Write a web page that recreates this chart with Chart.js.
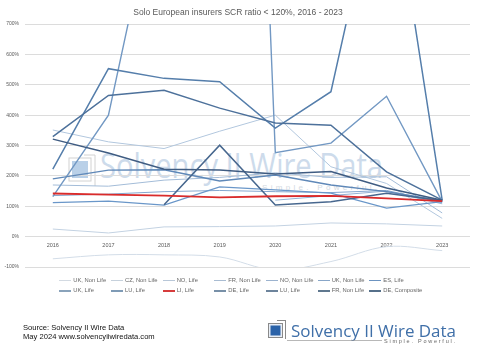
<!DOCTYPE html>
<html><head><meta charset="utf-8">
<script src="https://cdn.jsdelivr.net/npm/chart.js@4/dist/chart.umd.min.js"></script>
<style>
html,body{margin:0;padding:0;background:#fff;}
#wrap{position:relative;width:480px;height:360px;overflow:hidden;font-family:"Liberation Sans",Arial,sans-serif;}
#wm{position:absolute;left:0;top:0;z-index:0;}
#cv{position:absolute;left:0;top:0;z-index:1;}
#title{position:absolute;left:0;top:7px;width:476px;text-align:center;font-size:8.5px;color:#595959;z-index:2;}
.lg{position:absolute;font-size:5.8px;color:#666;white-space:nowrap;z-index:2;}
.lg i{position:absolute;left:0;width:12px;}
.lg span{position:absolute;left:14px;top:-4px;}
#src{position:absolute;left:23px;top:324px;font-size:7.6px;line-height:8.6px;color:#111;z-index:2;}
#logo{position:absolute;left:0;top:0;z-index:2;}
</style>
</head><body>
<div id="wrap">
<svg id="wm" width="480" height="360" xmlns="http://www.w3.org/2000/svg">
  <rect x="72" y="161" width="16" height="17" fill="#b9d0e8"/>
  <rect x="69" y="158" width="22" height="23" fill="none" stroke="#d2d2d2" stroke-width="1"/>
  <line x1="95" y1="155" x2="95" y2="186" stroke="#d2d2d2" stroke-width="1"/>
  <line x1="84" y1="155" x2="95" y2="155" stroke="#d2d2d2" stroke-width="1"/>
  <text x="100" y="178" font-family="Open Sans, Liberation Sans, sans-serif" font-size="34" fill="#cddbeb" textLength="283" lengthAdjust="spacingAndGlyphs">Solvency II Wire Data</text>
  <text x="262" y="190" font-family="Liberation Sans, sans-serif" font-size="8" fill="#d3dae2" textLength="115" lengthAdjust="spacing">Simple. Powerful.</text>
</svg>
<canvas id="cv" width="480" height="360"></canvas>
<div id="title">Solo European insurers SCR ratio &lt; 120%, 2016 - 2023</div>
<div id="legend"></div>
<div id="src">Source: Solvency II Wire Data<br>May 2024 www.solvencyiiwiredata.com</div>
<svg id="logo" width="480" height="360" xmlns="http://www.w3.org/2000/svg">
  <line x1="277" y1="320.5" x2="285" y2="320.5" stroke="#8a8a8a" stroke-width="1"/>
  <line x1="285.5" y1="320" x2="285.5" y2="339" stroke="#8a8a8a" stroke-width="1"/>
  <rect x="268.5" y="323.5" width="14" height="14" fill="#e8eef6" stroke="#8a8a8a" stroke-width="1"/>
  <rect x="270.5" y="325.5" width="10" height="10" fill="#2a62a8"/>
  <text x="291" y="337" font-family="Open Sans, Liberation Sans, sans-serif" font-size="17" fill="#3f6fa8" textLength="165" lengthAdjust="spacingAndGlyphs">Solvency II Wire Data</text>
  <line x1="287" y1="340.5" x2="382" y2="340.5" stroke="#9a9a9a" stroke-width="0.7"/>
  <text x="384" y="343" font-family="Liberation Sans, sans-serif" font-size="5.5" fill="#666" textLength="71" lengthAdjust="spacing">Simple. Powerful.</text>
</svg>
</div>
<script>
// ---- data ----
const years = ['2016','2017','2018','2019','2020','2021','2022','2023'];
const seriesNames = ['UK, Non Life','CZ, Non Life','NO, Life','FR, Non Life','NO, Non Life','UK, Non Life','ES, Life',
                     'UK, Life','LU, Life','LI, Life','DE, Life','LU, Life','FR, Non Life','DE, Composite'];
const ukNonLifeA  = [-73, -60, -60, -67, -110, -82, -33, -46];
const czNonLife   = [25, 12, 32, 33, 35, 45, 42, 35];
const noLife      = [351, 312, 290, 347, 400, 230, 175, 60];
const frNonLifeA  = [170, 166, 186, 195, 210, 195, 197, 78];
const noNonLife   = [null, null, null, null, 120, 135, 150, 108];
const ukNonLifeB  = [135, 140, 148, 152, 148, 145, 152, 112];
const esLife      = [112, 117, 104, 164, 154, 143, 94, 115];
const ukLife      = [132, 400, 1250, 4800, 276, 308, 462, 115];
const luLifeA     = [190, 219, 220, 183, 203, 170, 148, 118];
const liLife      = [142, 138, 135, 129, 133, 134, 126, 117];
const deLife      = [222, 553, 521, 510, 357, 477, 1300, 120];
const luLifeB     = [329, 465, 482, 423, 374, 367, 213, 120];
const frNonLifeB  = [null, null, 105, 301, 104, 115, 143, 118];
const deComposite = [321, 275, 222, 219, 206, 214, 160, 120];
const yMin = -100, yMax = 700, yStep = 100;

const seriesValues = [ukNonLifeA, czNonLife, noLife, frNonLifeA, noNonLife, ukNonLifeB, esLife,
                      ukLife, luLifeA, liLife, deLife, luLifeB, frNonLifeB, deComposite];
// ---- styles ----
const colors = ['#d3dde8','#c3d2e2','#b2c7de','#a3bcd8','#95b3d4','#84a8d0','#6a97c9',
                '#7298c3','#5f88b8','#d92b2b','#557eab','#4d719b','#47678e','#3f5c82'];
const widths = [1,1,1,1,1,1,1.2, 1.4,1.4,1.8,1.5,1.5,1.5,1.5];
const legendColors = ['#d3dae2','#c6d1dc','#b8c7d8','#a9bcd2','#9cb3cf','#88a6c8','#6c93c0',
                      '#8aa3bb','#7f9bb6','#d63c3c','#7890a8','#6d849c','#60788f','#56708a'];

const datasets = seriesNames.map((n,i)=>({
  label:n, data:seriesValues[i], borderColor:colors[i], backgroundColor:colors[i],
  borderWidth:widths[i], pointRadius:0, pointHoverRadius:0, fill:false,
  tension: i===0 ? 0.35 : 0, spanGaps:false, order: i===9 ? -1 : 14-i
}));

new Chart(document.getElementById('cv'), {
  type:'line',
  data:{labels:years, datasets},
  options:{
    responsive:false, animation:false,
    layout:{padding:{left:0,right:10,top:24,bottom:93}},
    plugins:{legend:{display:false}, title:{display:false}, tooltip:{enabled:false}},
    scales:{
      x:{
        position:{y:0},
        offset:true,
        grid:{display:false, drawTicks:false},
        border:{display:false},
        ticks:{font:{size:5.5,family:'Liberation Sans'}, color:'#595959', padding:6, maxRotation:0}
      },
      y:{
        min:yMin, max:yMax,
        grid:{color:'#dcdcdc', lineWidth:1, drawTicks:false},
        border:{display:false},
        ticks:{stepSize:yStep, font:{size:5,family:'Liberation Sans'}, color:'#595959', padding:6,
               callback:v=>v+'%'},
        afterFit:s=>{s.width=25;}
      }
    }
  }
});

// ---- legend ----
const lg = document.getElementById('legend');
seriesNames.forEach((n,i)=>{
  const row = i<7?0:1, col = i%7;
  const d = document.createElement('div');
  d.className='lg';
  d.style.left = (59.3 + col*51.67)+'px';
  d.style.top = (row===0?280.7:291)+'px';
  const h = row===0?1:2;
  d.innerHTML = '<i style="top:'+(-h/2)+'px;height:'+h+'px;background:'+legendColors[i]+'"></i><span>'+n+'</span>';
  lg.appendChild(d);
});
</script>
</body></html>
